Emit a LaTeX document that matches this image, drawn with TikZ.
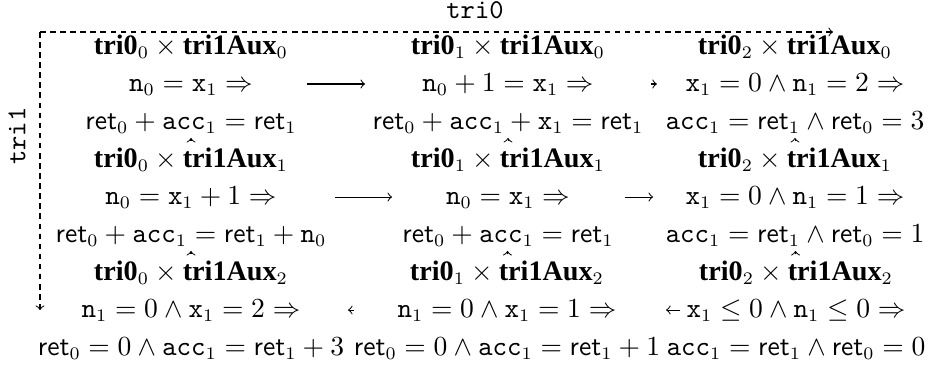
\documentclass[tikz,border=0pt]{standalone}
\usepackage{amsmath,amssymb}
\usepackage[no-math]{fontspec}
\newfontfamily\timesfont[Scale=1.045]{Liberation Serif}
\newcommand{\vn}{\mathtt{n}}
\newcommand{\vx}{\mathtt{x}}
\newcommand{\vacc}{\mathtt{acc}}
\newcommand{\vret}{\mathsf{ret}}
\newcommand{\hb}[1]{\text{\timesfont\bfseries #1}}
\newcommand{\cellhead}[2]{$\hb{tri0}_{#1}\times\hb{tri1Aux}_{#2}$}
\begin{document}
\begin{tikzpicture}[x=0.3968pt,y=-0.3968pt,
  cell/.style={align=center,font=\fontsize{10.7}{14.9}\selectfont},
  harrow/.style={->},
  varrow/.style={->,shorten >=21.4pt,shorten <=22.2pt},
  framearrow/.style={->,dash pattern=on 2.2pt off 1.8pt},
  lab/.style={font=\fontsize{10.8}{13}\selectfont\ttfamily}]
\useasboundingbox (0,0) rectangle (928,368);
\node[cell] (a00) at (191,84) {\cellhead{0}{0}\\ $\vn_0=\vx_1\Rightarrow$\\ $\vret_0+\vacc_1=\vret_1$};
\node[cell] (a01) at (508,84) {\cellhead{1}{0}\\ $\vn_0+1=\vx_1\Rightarrow$\\ $\vret_0+\vacc_1+\vx_1=\vret_1$};
\node[cell] (a02) at (795,84) {\cellhead{2}{0}\\ $\vx_1=0\wedge\vn_1=2\Rightarrow$\\ $\vacc_1=\vret_1\wedge\vret_0=3$};
\node[cell] (a10) at (191,197) {\cellhead{0}{1}\\ $\vn_0=\vx_1+1\Rightarrow$\\ $\vret_0+\vacc_1=\vret_1+\vn_0$};
\node[cell] (a11) at (508,197) {\cellhead{1}{1}\\ $\vn_0=\vx_1\Rightarrow$\\ $\vret_0+\vacc_1=\vret_1$};
\node[cell] (a12) at (795,197) {\cellhead{2}{1}\\ $\vx_1=0\wedge\vn_1=1\Rightarrow$\\ $\vacc_1=\vret_1\wedge\vret_0=1$};
\node[cell] (a20) at (191,310) {\cellhead{0}{2}\\ $\vn_1=0\wedge\vx_1=2\Rightarrow$\\ $\vret_0=0\wedge\vacc_1=\vret_1+3$};
\node[cell] (a21) at (507,310) {\cellhead{1}{2}\\ $\vn_1=0\wedge\vx_1=1\Rightarrow$\\ $\vret_0=0\wedge\vacc_1=\vret_1+1$};
\node[cell] (a22) at (796,310) {\cellhead{2}{2}\\ $\vx_1\leq0\wedge\vn_1\leq0\Rightarrow$\\ $\vacc_1=\vret_1\wedge\vret_0=0$};
% horizontal arrows
\draw[harrow,shorten <=46.0pt,shorten >=56.7pt] (a00.center) -- (a01.center);
\draw[harrow,shorten <=56.7pt,shorten >=54.8pt] (a01.center) -- (a02.center);
\draw[harrow,shorten <=57.1pt,shorten >=46.0pt] (a10.center) -- (a11.center);
\draw[harrow,shorten <=46.4pt,shorten >=56.3pt] (a11.center) -- (a12.center);
\draw[harrow,shorten <=60.7pt,shorten >=62.3pt] (a21.center) -- (a20.center);
\draw[harrow,shorten <=46.0pt,shorten >=63.1pt] (a22.center) -- (a21.center);
% vertical arrows
\foreach \c in {0,1,2}{
  \draw[varrow] (a1\c.center) -- (a0\c.center);
  \draw[varrow] (a2\c.center) -- (a1\c.center);
}
% frame
\coordinate (corner) at (40,32);
\coordinate (hend) at (833,32);
\coordinate (vend) at (40,310);
\draw[framearrow] (corner) -- (hend);
\draw[framearrow] (corner) -- (vend);
\node[lab,anchor=base] (l0) at (475,18) {tri0};
\node[lab,rotate=90] (l1) at (17,136) {tri1};
\end{tikzpicture}
\end{document}
